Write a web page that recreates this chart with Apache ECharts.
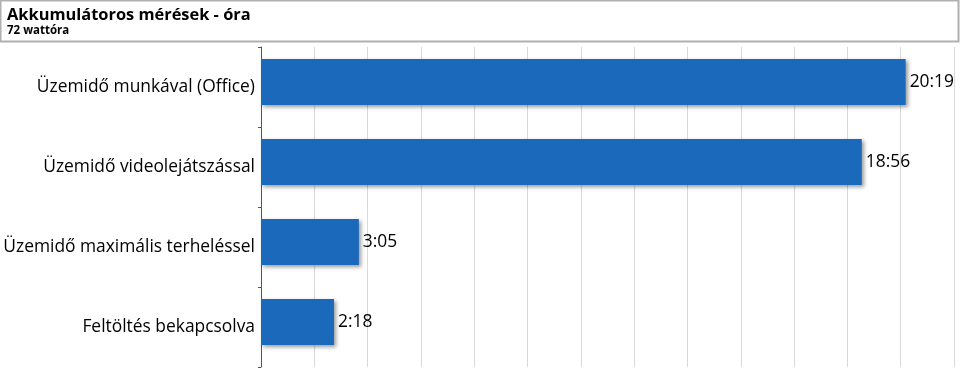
<!DOCTYPE html>
<html><head><meta charset="utf-8">
<script src="https://cdn.jsdelivr.net/npm/echarts@6/dist/echarts.min.js"></script>
<style>html,body{margin:0;padding:0;background:#fff}#c{width:960px;height:380px}</style>
</head><body><div id="c"></div>
<script>
var titleText = 'Akkumulátoros mérések - óra';
var subtitleText = '72 wattóra';
var categories = ['Üzemidő munkával (Office)', 'Üzemidő videolejátszással', 'Üzemidő maximális terheléssel', 'Feltöltés bekapcsolva'];
var minutes = [1219, 1136, 185, 138];
var axisMax = 1310.4;
var axisInterval = 100.8;

function fmt(v){ var h=Math.floor(v/60), m=v%60; return h+':'+(m<10?'0':'')+m; }

var chart = echarts.init(document.getElementById('c'), null, {renderer:'canvas'});
var FONT = 'Open Sans';
chart.setOption({
  animation:false,
  graphic:[{type:'rect', shape:{x:0.5,y:0.5,width:958,height:41}, style:{fill:'none', stroke:'#b0b0b0', lineWidth:2}, silent:true}],
  title:{text:titleText, subtext:subtitleText, left:2, top:2, itemGap:2,
    textStyle:{fontFamily:FONT, fontWeight:'bold', fontSize:16.4, color:'#000'},
    subtextStyle:{fontFamily:FONT, fontWeight:'bold', fontSize:11.5, color:'#000'}},
  grid:{left:261, right:6, top:47, height:320, containLabel:false},
  xAxis:{type:'value', min:0, max:axisMax, interval:axisInterval,
    axisLabel:{show:false}, axisTick:{show:false}, axisLine:{show:false},
    splitLine:{show:true, lineStyle:{color:'#d9d9d9', width:1}}},
  yAxis:{type:'category', data:categories, inverse:true,
    axisLine:{show:true, lineStyle:{color:'#555', width:1}},
    axisTick:{show:true, length:3, lineStyle:{color:'#555'}},
    axisLabel:{fontFamily:FONT, fontSize:17.4, color:'#000', margin:6}},
  series:[
    {type:'bar', data:minutes, barWidth:46, barGap:'0%',
      itemStyle:{color:'#1a69bb', shadowColor:'rgba(0,0,0,0.4)', shadowBlur:4, shadowOffsetX:2, shadowOffsetY:2},
      label:{show:true, position:'right', distance:4, fontFamily:FONT, fontSize:17.4, color:'#000',
        formatter:function(p){return fmt(p.value);}}},
    {type:'bar', data:minutes.map(function(){return '-';}), barWidth:10, silent:true}
  ]
});
</script></body></html>
